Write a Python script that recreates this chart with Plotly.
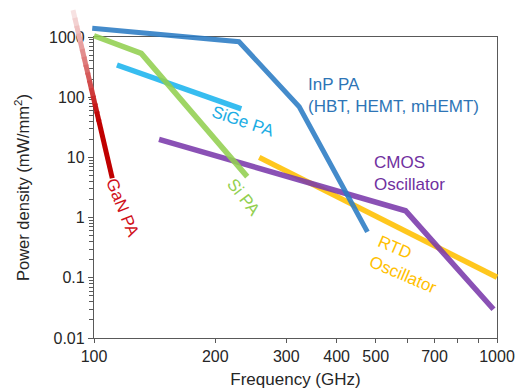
import math
import plotly.graph_objects as go

# ---------------- data ----------------
inp_x = [99, 229, 323, 477]
inp_y = [1400, 836, 69.5, 0.58]
si_x = [100, 131, 240]
si_y = [1050, 535, 4.8]
sige_x = [114, 232]
sige_y = [343, 64]
cmos_x = [145, 593, 980]
cmos_y = [20, 1.3, 0.03]
rtd_x = [257, 1000]
rtd_y = [10, 0.102]
gan_x = [88.7, 111]
gan_y = [2800, 4.5]

xtick_vals = [100, 200, 300, 400, 500, 600, 700, 800, 900, 1000]
xtick_text = ['100', '200', '300', '400', '500', '', '700', '', '', '1000']
ytick_vals = [0.01, 0.1, 1, 10, 100, 1000]
ytick_text = ['0.01', '0.1', '1', '10', '100', '1000']
yminor_vals = [k * 10 ** e for e in range(-2, 3) for k in range(2, 10)]

# ---------------- layout geometry ----------------
W, H = 517, 389
L, R, T, B = 94, 497, 37, 338          # plot frame in pixels
XMIN, XMAX = 2.0, 3.0                  # log10 range of frame
YMIN, YMAX = -2.0, 3.0
xpd = (R - L) / (XMAX - XMIN)
ypd = (B - T) / (YMAX - YMIN)
# data layer spans the whole figure so lines can leave the frame
x2_range = [XMIN - L / xpd, XMAX + (W - R) / xpd]
y2_range = [YMIN - (H - B) / ypd, YMAX + T / ypd]

FONT = "Arial, Liberation Sans, sans-serif"
AX = '#595959'

fig = go.Figure()
fig.add_trace(go.Scatter(x=[150], y=[1], xaxis='x', yaxis='y', mode='markers',
                         marker=dict(opacity=0), showlegend=False, hoverinfo='skip'))


def add_line(xs, ys, color, width=5.5, opacity=0.88):
    fig.add_trace(go.Scatter(x=xs, y=ys, mode='lines', xaxis='x2', yaxis='y2',
                             line=dict(color=color, width=width),
                             opacity=opacity, showlegend=False, hoverinfo='skip'))


add_line(sige_x, sige_y, '#1CB4EE')
add_line(rtd_x, rtd_y, '#FFC000')
add_line(cmos_x, cmos_y, '#7B3AAB')
add_line(si_x, si_y, '#92D050')
add_line(inp_x, inp_y, '#2B7CC4', width=5)

# GaN line with a fade toward its upper end (segments of the same straight line)
lx0, ly0 = math.log10(gan_x[0]), math.log10(gan_y[0])
lx1, ly1 = math.log10(gan_x[1]), math.log10(gan_y[1])
N, TS = 14, 0.65
for i in range(N):
    t0, t1 = TS * i / N, TS * (i + 1) / N + 0.01
    a = 0.08 + 0.92 * (i + 0.5) / N
    c = 'rgb(%d,%d,%d)' % (255 - (255 - 192) * a, 255 * (1 - a), 255 * (1 - a))
    fig.add_trace(go.Scatter(
        x=[10 ** (lx0 + (lx1 - lx0) * t0), 10 ** (lx0 + (lx1 - lx0) * t1)],
        y=[10 ** (ly0 + (ly1 - ly0) * t0), 10 ** (ly0 + (ly1 - ly0) * t1)],
        mode='lines', xaxis='x2', yaxis='y2', line=dict(color=c, width=5),
        showlegend=False, hoverinfo='skip'))
fig.add_trace(go.Scatter(
    x=[10 ** (lx0 + (lx1 - lx0) * TS), gan_x[1]],
    y=[10 ** (ly0 + (ly1 - ly0) * TS), gan_y[1]],
    mode='lines', xaxis='x2', yaxis='y2', line=dict(color='#C00000', width=5),
    showlegend=False, hoverinfo='skip'))


def px(x):
    return x / W


def py(y):
    return 1 - y / H


def note(text, x, y, color, angle=0, xa='center', ya='middle', align='center', size=17):
    fig.add_annotation(text=text, x=px(x), y=py(y), xref='paper', yref='paper',
                       xanchor=xa, yanchor=ya, align=align, textangle=angle,
                       showarrow=False, font=dict(family=FONT, size=size, color=color))


note('InP PA<br>(HBT, HEMT, mHEMT)', 306, 73, '#2E75B6', xa='left', ya='top', align='left')
note('CMOS<br>Oscillator', 372, 151, '#7030A0', xa='left', ya='top', align='left')
note('SiGe PA', 243, 121, '#1CADE4', angle=18.5)
note('Si PA', 244, 197, '#92D050', angle=52)
note('GaN PA', 122, 208, '#D0101A', angle=68)
note('RTD<br>Oscillator', 407, 264, '#FFC000', angle=23, align='left')

fig.update_layout(
    width=W, height=H, autosize=False,
    margin=dict(l=0, r=0, t=0, b=0, autoexpand=False),
    paper_bgcolor='white', plot_bgcolor='rgba(0,0,0,0)',
    font=dict(family=FONT, size=16, color='#262626'),
    xaxis=dict(type='log', range=[XMIN, XMAX], domain=[L / W, R / W], anchor='y',
               automargin=False,
               showgrid=False, zeroline=False, showline=True, linecolor=AX, linewidth=1.3,
               mirror=True, ticks='outside', ticklen=4, tickcolor=AX, tickwidth=1,
               tickmode='array', tickvals=xtick_vals, ticktext=xtick_text,
               tickfont=dict(size=16, color='#262626'),
               title=dict(text='Frequency (GHz)', font=dict(size=17, color='#262626'))),
    yaxis=dict(type='log', range=[YMIN, YMAX], domain=[1 - B / H, 1 - T / H], anchor='x',
               automargin=False,
               showgrid=False, zeroline=False, showline=True, linecolor=AX, linewidth=1.3,
               mirror=True, ticks='outside', ticklen=5, tickcolor=AX, tickwidth=1,
               tickmode='array', tickvals=ytick_vals, ticktext=ytick_text,
               tickfont=dict(size=16, color='#262626'),
               minor=dict(tickmode='array', tickvals=yminor_vals, ticks='outside',
                          ticklen=4, tickcolor=AX, tickwidth=1),
               title=dict(text='Power density (mW/mm<sup>2</sup>)',
                          font=dict(size=16.5, color='#262626'))),
    xaxis2=dict(type='log', range=x2_range, domain=[0, 1], anchor='y2', visible=False),
    yaxis2=dict(type='log', range=y2_range, domain=[0, 1], anchor='x2', visible=False),
)

fig.write_html("out.html")
